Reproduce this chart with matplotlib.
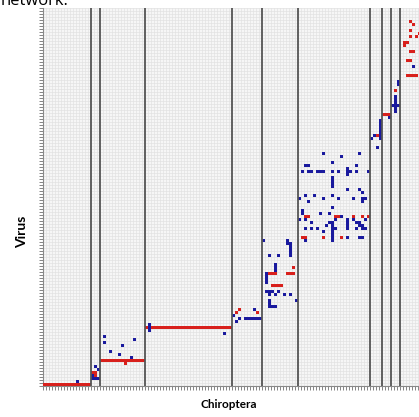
import numpy as np
import matplotlib
matplotlib.use("Agg")
import matplotlib.pyplot as plt

# ---- data (column = bat species index, row = virus index) ----
n_cols_visible = 125.33
n_rows = 126
module_bounds = [16, 19, 34, 63, 73, 85, 109, 113, 116, 119]

# horizontal runs: (row, start col, length)
red_runs = [(0, 0, 16), (8, 19, 15), (19, 34, 29), (90, 113, 3),
            (37, 75, 3), (37, 81, 3), (33, 76, 4), (56, 97, 3), (49, 86, 2)]
blue_runs = [(2, 16, 3), (22, 67, 6), (93, 116, 3), (83, 110, 2)]
# vertical runs: (col, start row, length)
blue_vruns = [(35, 18, 3), (82, 43, 5), (81, 47, 2), (74, 34, 4), (96, 66, 4),
              (96, 48, 7), (101, 52, 4), (86, 57, 2), (112, 82, 7), (117, 91, 6),
              (118, 100, 2)]

blue_cells = [
    (11, 1), (16, 3), (18, 5), (17, 6),
    (20, 16), (20, 14), (22, 11), (25, 10), (26, 13), (30, 15), (29, 9),
    (60, 17),
    (63, 23), (65, 22), (70, 25), (64, 21),
    (73, 48), (75, 43), (78, 43), (77, 38), (77, 39), (77, 40),
    (74, 31), (75, 30), (76, 31), (77, 30), (78, 31), (75, 31),
    (75, 27), (75, 28), (75, 26), (76, 26), (77, 26), (80, 30), (82, 30), (84, 28),
    (93, 77), (99, 76), (105, 77), (87, 73), (88, 73), (96, 74), (104, 73),
    (86, 71), (88, 71), (89, 71), (91, 71), (92, 71), (93, 71), (96, 71), (98, 71),
    (101, 70), (101, 71), (101, 72), (102, 71), (104, 71), (108, 71),
    (101, 65), (105, 65), (106, 64),
    (85, 62), (87, 63), (88, 61), (90, 63), (93, 62), (96, 63), (98, 62),
    (103, 62), (106, 62), (107, 62), (106, 61),
    (87, 55), (85, 55), (89, 54), (92, 57), (95, 57), (96, 59), (99, 56),
    (95, 54), (97, 55), (97, 52), (103, 55), (104, 52), (105, 53), (106, 52),
    (107, 52), (105, 54), (106, 53), (104, 54), (107, 55),
    (87, 52), (89, 52), (91, 52), (93, 51), (94, 53), (87, 48), (96, 49),
    (101, 49), (105, 49), (106, 49),
    (109, 82), (111, 79), (115, 89), (123, 106),
]
red_cells = [
    (16, 4), (17, 4), (17, 3), (27, 7),
    (64, 24), (65, 25), (71, 24), (83, 39),
    (103, 56), (106, 56), (108, 56), (93, 49), (99, 49), (87, 56), (88, 56),
    (111, 83), (117, 98),
    (122, 121), (123, 120), (122, 118), (122, 116), (125, 117), (124, 116),
    (120, 114), (120, 113), (121, 114), (122, 111), (123, 111), (121, 108),
    (122, 108), (121, 103), (122, 103), (123, 103), (124, 103),
]

RED = "#d8201c"
BLUE = "#1a1a9e"

W, H = 419, 417
fig = plt.figure(figsize=(W / 100, H / 100), dpi=100)
ax = fig.add_axes([43 / W, (H - 386) / H, 376 / W, 378 / H])
ax.set_facecolor("#f6f6f6")
ax.set_xlim(0, n_cols_visible)
ax.set_ylim(0, n_rows)

# grid
ax.set_xticks(np.arange(0, 126))
ax.set_yticks(np.arange(0, n_rows + 1))
ax.set_xticklabels([])
ax.set_yticklabels([])
ax.grid(True, color="#e2e2e2", linewidth=0.5)
ax.set_axisbelow(True)
ax.tick_params(axis="both", length=3, width=0.6, color="#707070", direction="out")
for s in ["top", "right"]:
    ax.spines[s].set_visible(False)
for s in ["left", "bottom"]:
    ax.spines[s].set_color("#888888")
    ax.spines[s].set_linewidth(0.8)

def draw_runs(runs, color):
    rows = [r[0] for r in runs]
    starts = [r[1] for r in runs]
    lens = [r[2] for r in runs]
    ax.barh(rows, lens, left=starts, height=1, align="edge", color=color,
            linewidth=0, zorder=3)

def draw_vruns(runs, color):
    cols = [r[0] for r in runs]
    starts = [r[1] for r in runs]
    lens = [r[2] for r in runs]
    ax.bar(cols, lens, bottom=starts, width=1, align="edge", color=color,
           linewidth=0, zorder=3)

def draw_cells(cells, color):
    cols = [c[0] for c in cells]
    rows = [c[1] for c in cells]
    ax.bar(cols, [1] * len(cells), bottom=rows, width=1, align="edge",
           color=color, linewidth=0, zorder=3)

draw_runs(red_runs, RED)
draw_runs(blue_runs, BLUE)
draw_vruns(blue_vruns, BLUE)
draw_cells(blue_cells, BLUE)
draw_cells(red_cells, RED)

for b in module_bounds:
    ax.axvline(b, color="#555555", linewidth=1.3, zorder=4)

fig.text(229 / W, (H - 408) / H, "Chiroptera", ha="center", va="baseline",
         fontsize=8.5, fontweight="bold", family="Lato")
fig.text(22 / W, (H - 232) / H, "Virus", ha="center", va="center",
         rotation=90, fontsize=10, fontweight="bold", family="Lato")
fig.text(0.002, (H - 5) / H, "network.", ha="left", va="baseline",
         fontsize=12, family="Open Sans")

fig.savefig("out.png", dpi=100)
